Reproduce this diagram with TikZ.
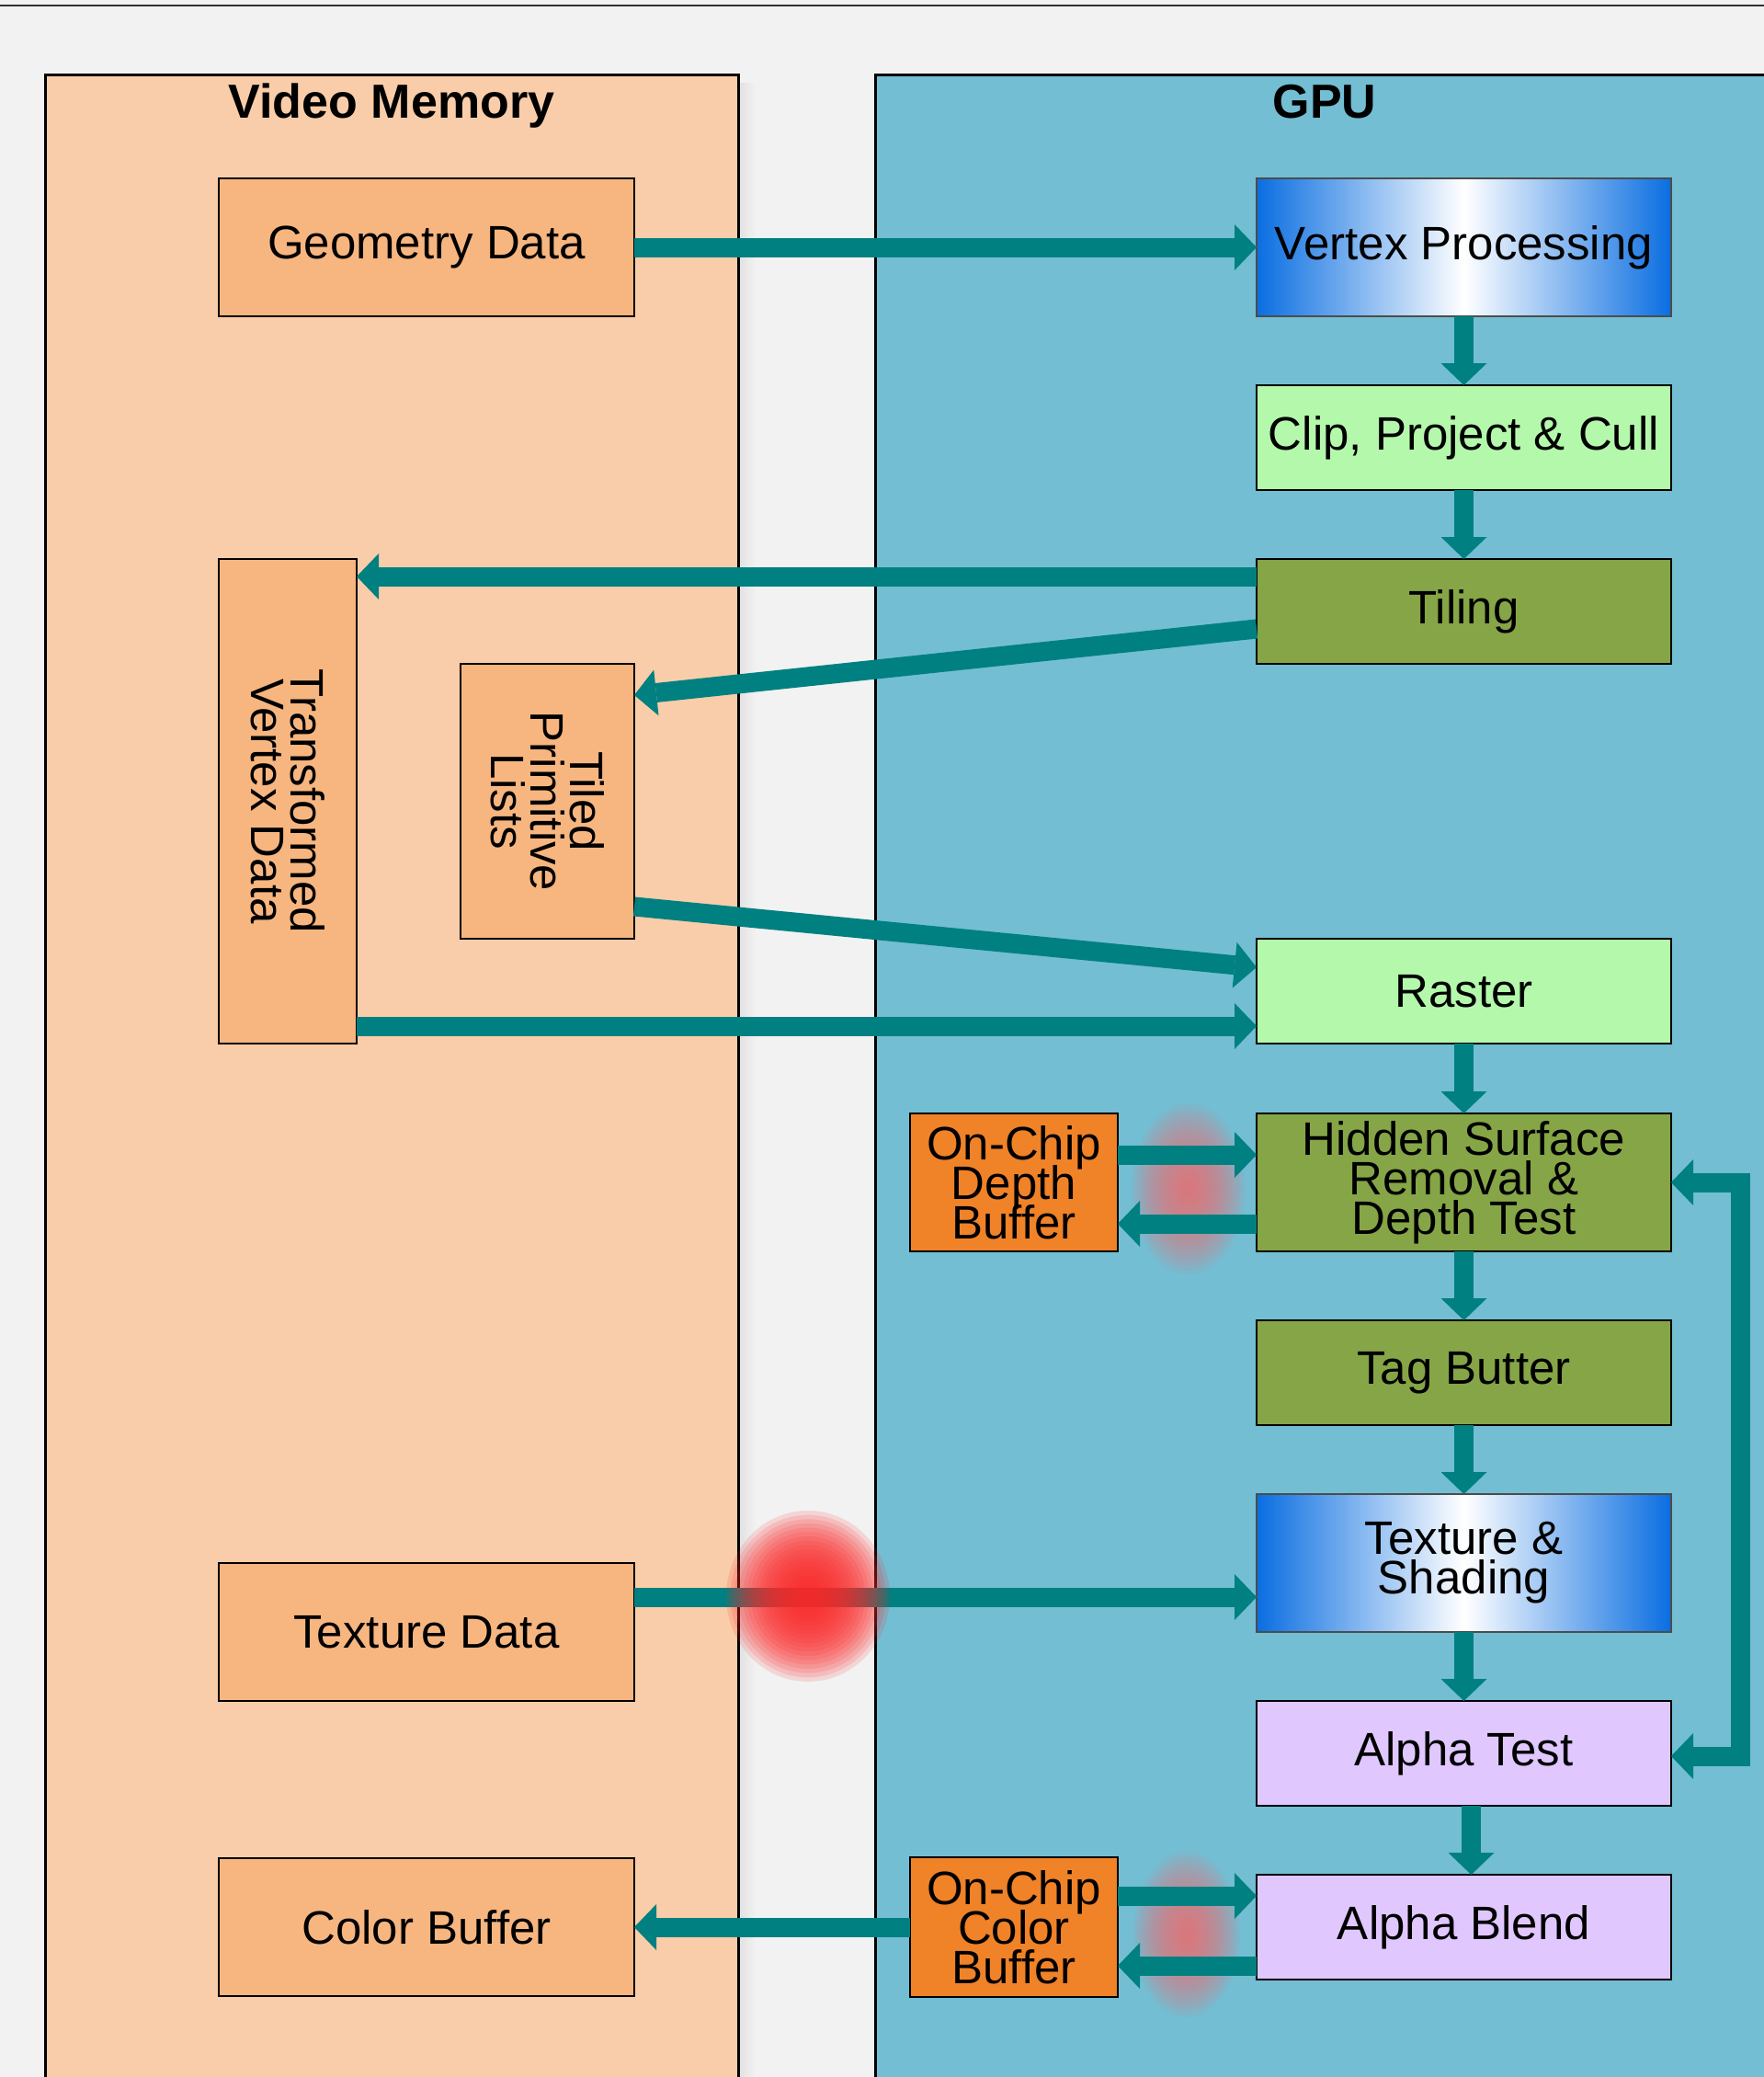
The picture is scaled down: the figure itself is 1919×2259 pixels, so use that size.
\documentclass[tikz,border=0pt]{standalone}
\usepackage{fontspec}
\setmainfont{Liberation Sans}
\usetikzlibrary{arrows.meta, positioning}

\definecolor{bggray}{RGB}{242,242,242}
\definecolor{vmpanel}{RGB}{249,205,169}
\definecolor{vmfill}{RGB}{247,182,128}
\definecolor{gpupanel}{RGB}{115,190,211}
\definecolor{flowteal}{RGB}{0,128,128}
\definecolor{lightgreen}{RGB}{180,248,172}
\definecolor{stagegreen}{RGB}{134,165,70}
\definecolor{chiporange}{RGB}{240,130,40}
\definecolor{lavender}{RGB}{224,200,255}
\definecolor{gradblue}{RGB}{10,110,225}
\definecolor{glowred}{RGB}{255,40,40}

\begin{document}
\begin{tikzpicture}[
        x=1pt, y=-1pt,
        node distance=75pt,
        box/.style={rectangle, draw, line width=2.5pt, outer sep=0pt, minimum width=451pt, minimum height=114pt, align=center, font={\fontsize{51}{43}\selectfont\lineskiplimit=-100pt}},
        membox/.style={box, fill=vmfill, minimum width=452pt, minimum height=150pt},
        chipbox/.style={box, fill=chiporange, minimum width=226pt, minimum height=150pt},
        gradbox/.style={box, draw=black!70, line width=1.5pt, minimum height=150pt, left color=gradblue, right color=gradblue, middle color=white},
        paneltitle/.style={anchor=base, font={\fontsize{52}{60}\selectfont\bfseries}},
        arrow/.style={->, flowteal, line width=21pt, >={Triangle[length=24pt, width=50pt, line width=0pt]}},
        softglow/.style={fill=glowred!70!white, opacity=0.07},
        hotglow/.style={fill=glowred, opacity=0.14}
    ]

    \useasboundingbox (0,0) rectangle (1919,2259);
    \fill[bggray] (0,0) rectangle (1919,2259);
    \draw[line width=2pt, black!80] (0,6) -- (1919,6);

    % Panels
    \shade[left color=black!12, right color=bggray] (803,90) rectangle (822,2259);
    \fill[vmpanel] (49,81) rectangle (803,2270);
    \draw[line width=3pt] (49,2270) -- (49,81) -- (803,81) -- (803,2270);
    \fill[gpupanel] (952,81) rectangle (1930,2270);
    \draw[line width=3pt] (952,2270) -- (952,81) -- (1930,81);
    \node[paneltitle] (vmtitle) at (426,128) {Video Memory};
    \node[paneltitle] (gputitle) at (1441,128) {GPU};

    % GPU pipeline
    \node[gradbox] (vertex) at (1592.5,269) {Vertex Processing};
    \node[box, fill=lightgreen, below=of vertex] (clip) {Clip, Project \& Cull};
    \node[box, fill=stagegreen, below=of clip] (tiling) {Tiling};
    \node[box, fill=lightgreen, below=299pt of tiling] (raster) {Raster};
    \node[box, fill=stagegreen, minimum height=150pt, below=76pt of raster] (hsr) {Hidden Surface\\Removal \&\\Depth Test};
    \node[box, fill=stagegreen, below=of hsr] (tag) {Tag Butter};
    \node[gradbox, below=of tag] (shading) {Texture \&\\Shading};
    \node[box, fill=lavender, below=of shading] (alphatest) {Alpha Test};
    \node[box, fill=lavender, below=of alphatest] (blend) {Alpha Blend};

    % On-chip buffers
    \node[chipbox, left=151pt of hsr] (depthbuf) {On-Chip\\Depth\\Buffer};
    \node[chipbox, minimum height=152pt, left=151pt of blend] (colorchip) {On-Chip\\Color\\Buffer};

    % Video memory
    \node[membox] (geometry) at (464,269) {Geometry Data};
    \node[membox, rotate=-90, minimum width=527pt] (transformed) at (313,871.5) {Transformed\\Vertex Data};
    \node[membox, rotate=-90, minimum width=299pt, minimum height=189pt] (tiled) at (595.5,871.5) {Tiled\\Primitive\\Lists};
    \node[membox] (texdata) at (464,1775) {Texture Data};
    \node[membox, left=300pt of colorchip] (colorbuf) {Color Buffer};

    % Glow behind the on-chip links
    \foreach \s in {1,0.95,...,0.05} {
        \fill[softglow] (1293,1293) ellipse ({62*\s} and {93*\s});
        \fill[softglow] (1291,2104) ellipse ({58*\s} and {90*\s});
    }

    % Connections
    \draw[arrow] (geometry) -- (vertex);
    \draw[arrow] (vertex) -- (clip);
    \draw[arrow] (clip) -- (tiling);
    \draw[arrow] ([yshift=-19pt]tiling.north west) -- ([yshift=-19pt]transformed.north west);
    \draw[arrow] ([yshift=-19pt]tiling.west) -- ([yshift=-34pt]tiled.north west);
    \draw[arrow] ([yshift=35pt]tiled.north east) -- ([yshift=26pt]raster.west);
    \draw[arrow] ([yshift=19pt]transformed.north east) -- ([yshift=19pt]raster.south west);
    \draw[arrow] (raster) -- (hsr);
    \draw[arrow] ([yshift=30pt]depthbuf.east) -- ([yshift=30pt]hsr.west);
    \draw[arrow] ([yshift=-45pt]hsr.west) -- ([yshift=-45pt]depthbuf.east);
    \draw[arrow] (hsr) -- (tag);
    \draw[arrow] (tag) -- (shading);
    \draw[arrow] ([yshift=-37pt]texdata.north east) -- ([yshift=-112pt]shading.north west);
    \draw[arrow] (shading) -- (alphatest);
    \draw[arrow, <->] ([yshift=-3pt]alphatest.east) -- ++(75,0) |- (hsr.east);
    \draw[arrow] ([xshift=8pt]alphatest.south) -- ([xshift=8pt]blend.north);
    \draw[arrow] ([yshift=34pt]colorchip.east) -- ([yshift=34pt]blend.west);
    \draw[arrow] ([yshift=-42pt]blend.west) -- ([yshift=-42pt]colorchip.east);
    \draw[arrow] (colorchip) -- (colorbuf);

    % Glow on the texture fetch
    \foreach \s in {1,0.95,...,0.05}
        \fill[hotglow] (879,1736) ellipse ({89*\s} and {93*\s});

\end{tikzpicture}
\end{document}
